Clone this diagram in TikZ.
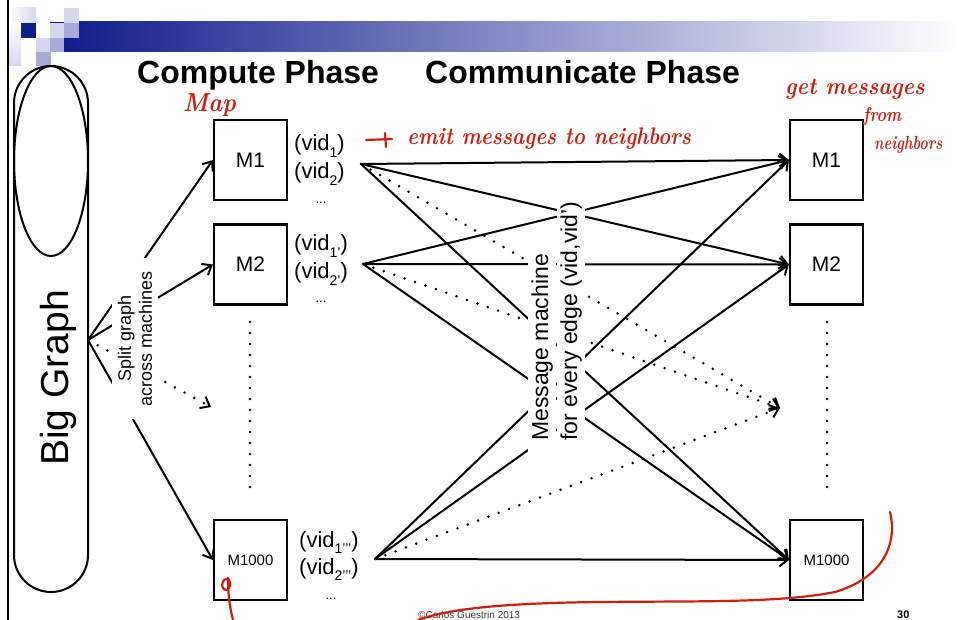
\documentclass[tikz,border=0pt]{standalone}
\usepackage{fontspec}
\newfontfamily\arial{Liberation Sans}
\usetikzlibrary{arrows.meta}
\definecolor{navy}{RGB}{16,28,140}
\definecolor{lav}{RGB}{169,171,214}
\definecolor{lavlight}{RGB}{214,215,236}
\definecolor{ink}{RGB}{205,30,15}
\newcommand\setfs[1]{\fontsize{#1}{#1}\selectfont}
\newcommand\vsub[1]{\raisebox{-0.3em}{\fontsize{14}{14}\selectfont #1}}
\newcommand\narrow[2]{\scalebox{#1}[1]{#2}}
\begin{document}
\begin{tikzpicture}[x=1pt,y=-1pt,
  mbox/.style={draw, line width=2.2pt, minimum width=73pt, minimum height=80pt,
    inner sep=0pt, font=\arial\setfs{21}},
  vid/.style={anchor=base west, inner sep=0pt, font=\arial\setfs{22}},
  more/.style={anchor=base, inner sep=0pt, font=\arial\setfs{13}},
  link/.style={line width=2pt, -{Straight Barb[length=8pt,width=13pt]}},
  dotlink/.style={line width=2.8pt, line cap=round, dash pattern=on 0pt off 11pt,
    -{Straight Barb[length=8pt,width=13pt,line width=2pt]}},
  dotline/.style={line width=2.8pt, line cap=round, dash pattern=on 0pt off 11pt},
  hand/.style={anchor=base west, inner sep=0pt, text=ink, font=\rmfamily\bfseries\itshape\setfs{24}},
  handline/.style={ink, line width=2.2pt, line cap=round, line join=round},
  vlabel/.style={rotate=90, anchor=base west, fill=white, font=\arial\setfs{23},
    inner xsep=14pt, inner ysep=3pt}]
\useasboundingbox (0,0) rectangle (959,620);
\fill[white] (0,0) rectangle (959,620);

% slide header: gradient bar and chequered squares
\shade[left color=navy, right color=white] (64,22) rectangle (959,52);
\shade[left color=white, right color=lavlight] (8,8) rectangle (36,23);
\shade[top color=white, bottom color=lavlight] (8,23) rectangle (21,66);
\fill[lavlight] (64,8) rectangle (79,23);
\fill[navy] (21,23) rectangle (36,38);
\fill[lavlight] (50,23) rectangle (64,38);
\fill[navy] (50,22) rectangle (64,23.2);
\fill[lav] (64,23) rectangle (79,38);
\fill[lavlight] (36,38) rectangle (50,52);
\fill[lav] (50,38) rectangle (64,52);
\fill[lav] (36,52) rectangle (51,66);
\draw[line width=1.5pt] (8,0) -- (8,620);

% headings
\node[anchor=base west, inner sep=0pt, font=\arial\bfseries\setfs{32}] (hc) at (137,84) {Compute Phase};
\node[anchor=base west, inner sep=0pt, font=\arial\bfseries\setfs{32}] (hm) at (425,84) {Communicate Phase};

% the big graph
\node[draw, line width=2pt, rounded corners=37pt, minimum width=74pt, minimum height=526pt,
  inner sep=0pt] (bg) at (51,329) {};
\draw[line width=2pt] (51,161) ellipse [x radius=37pt, y radius=95pt];
\node[rotate=90, anchor=base, inner sep=0pt, font=\arial\setfs{39}] (bgl) at (68,378) {Big Graph};

% machines
\node[mbox] (m1) at (250.5,160) {M1};
\node[mbox] (m2) at (250.5,264.5) {M2};
\node[mbox, font=\arial\setfs{15}] (m1000) at (250.5,560) {M1000};
\node[mbox] (n1) at (826.5,160) {M1};
\node[mbox] (n2) at (826.5,264.5) {M2};
\node[mbox, font=\arial\setfs{15}] (n1000) at (826.5,560) {M1000};
\draw[dotline] (250,322) -- (250,494);
\draw[dotline] (827,322) -- (827,494);

% vertex lists
\node[vid] (a1) at (294,151) {(vid\vsub{1})};
\node[vid] (a2) at (294,179) {(vid\vsub{2})};
\node[more] (a3) at (321,204) {...};
\node[vid] (b1) at (294,251) {(vid\vsub{1’})};
\node[vid] (b2) at (294,279) {(vid\vsub{2’})};
\node[more] (b3) at (321,303) {...};
\node[vid] (c1) at (299,547) {(vid\vsub{1’’’})};
\node[vid] (c2) at (299,574) {(vid\vsub{2’’’})};
\node[more] (c3) at (331,599) {...};

% split
\coordinate (split) at (88,340);
\coordinate (gap) at (211,407);
\draw[link] (split) -- (m1.west);
\draw[link] (split) -- (m2.west);
\draw[dotlink] (split) -- (gap);
\draw[link] (split) -- (m1000.west);

% messages along edges
\coordinate (s1) at (361,164);
\coordinate (s2) at (363,264);
\coordinate (s3) at (375,559);
\coordinate (t4) at (780,408);
\foreach \s in {s1,s2,s3}{
  \draw[link] (\s) -- (n1.west);
  \draw[link] (\s) -- (n2.west);
  \draw[link] (\s) -- (n1000.west);
  \draw[dotlink] (\s) -- (t4);
}

% labels over the connectors
\node[rotate=90, fill=white, align=center, font=\arial\fontsize{18}{21}\selectfont,
  inner xsep=13pt, inner ysep=6pt] (sl) at (135,338.5) {Split graph\\across machines};
\node[vlabel] (mm2) at (577,455) {for every edge (vid,vid’)};
\node[vlabel] (mm1) at (548,455) {Message machine};

% footer
\node[anchor=base west, inner sep=0pt, text=black!80, font=\arial\setfs{10}] (ft) at (418,618) {©Carlos Guestrin 2013};
\node[anchor=base west, inner sep=0pt, font=\arial\bfseries\setfs{11}] (pg) at (897,618) {30};

% pen notes
\node[hand, font=\rmfamily\bfseries\itshape\setfs{26}] (h1) at (183,112) {\narrow{0.9}{Map}};
\draw[handline] (366,140) -- (392,139);
\draw[handline] (385,133) -- (386,147);
\node[hand] (h2) at (407,145) {\narrow{0.86}{emit messages to neighbors}};
\node[hand] (h3) at (785,95) {\narrow{0.9}{get messages}};
\node[hand, font=\rmfamily\bfseries\itshape\setfs{20}] (h4) at (863,122) {\narrow{0.8}{from}};
\node[hand, font=\rmfamily\bfseries\itshape\setfs{19}] (h5) at (874,150) {\narrow{0.76}{neighbors}};
\draw[handline] (890,512) .. controls (898,545) and (882,578) .. (835,592)
  .. controls (780,603) and (700,601) .. (600,602)
  .. controls (510,603) and (450,608) .. (418,620);
\draw[handline] (229,580) .. controls (222,575) and (219,591) .. (227,590)
  .. controls (231,588) and (231,582) .. (228,578)
  .. controls (228,596) and (230,608) .. (233,620);
\end{tikzpicture}
\end{document}
